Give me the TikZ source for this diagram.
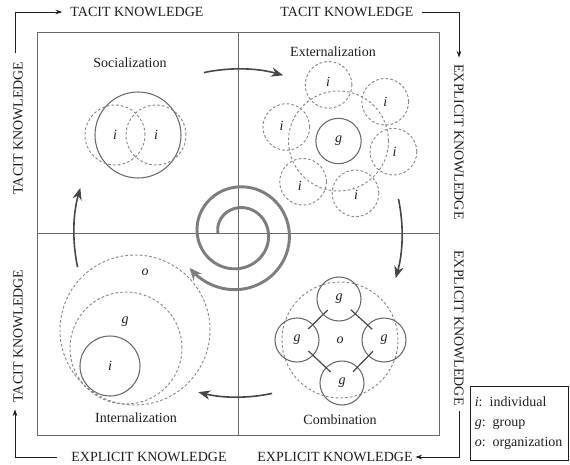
\documentclass[tikz,border=0pt]{standalone}
\usepackage{fontspec}
\setmainfont{Liberation Serif}
\usepackage{tikz}
\usetikzlibrary{arrows.meta, calc}
\definecolor{kline}{RGB}{105,105,105}
\definecolor{kdash}{RGB}{135,135,135}
\definecolor{kspiral}{RGB}{125,125,125}
\definecolor{karrow}{RGB}{70,70,70}
\definecolor{ktext}{RGB}{30,30,30}
\tikzset{
    lbl/.style={font=\fontsize{10.5}{12}\selectfont, text=ktext, inner sep=1pt},
    letter/.style={font=\fontsize{10.5}{12}\selectfont\itshape, text=ktext, inner sep=0pt},
    solidc/.style={circle, draw=kline, line width=0.8pt, inner sep=0pt, letter},
    dashc/.style={circle, draw=kdash, line width=0.7pt, dash pattern=on 2pt off 1.6pt, inner sep=0pt, letter},
    cycarrow/.style={draw=karrow, line width=1.2pt, -{Stealth[length=9pt, width=7pt]}},
    spiralarrow/.style={draw=kspiral, line width=2.2pt, -{Stealth[length=9pt, width=8pt]}},
    cornerarrow/.style={draw=ktext, line width=0.6pt, -{Stealth[length=5pt, width=3.5pt]}},
    gline/.style={draw=karrow, line width=0.9pt, shorten <=-5pt, shorten >=-5pt}
}
\begin{document}
\begin{tikzpicture}[x=0.75pt, y=0.75pt]
    \useasboundingbox (0,0) rectangle (570,-464);
    \coordinate (C) at (238,-233);

    % frame and quadrants
    \draw[kline, line width=0.6pt] (37,-32) rectangle (439,-435);
    \draw[kline, line width=0.6pt] (238,-32) -- (238,-435);
    \draw[kline, line width=0.6pt] (37,-233) -- (439,-233);

    % knowledge labels round the frame
    \node[lbl] (tacitT1) at (137,-12) {TACIT KNOWLEDGE};
    \node[lbl] (tacitT2) at (347,-12) {TACIT KNOWLEDGE};
    \node[lbl, rotate=-90] (explR1) at (459,-142) {EXPLICIT KNOWLEDGE};
    \node[lbl, rotate=-90] (explR2) at (459,-328) {EXPLICIT KNOWLEDGE};
    \node[lbl] (explB2) at (335,-457) {EXPLICIT KNOWLEDGE};
    \node[lbl] (explB1) at (149,-457) {EXPLICIT KNOWLEDGE};
    \node[lbl, rotate=90] (tacitL1) at (18,-128) {TACIT KNOWLEDGE};
    \node[lbl, rotate=90] (tacitL2) at (18,-336) {TACIT KNOWLEDGE};
    \coordinate (cW) at (15,-12);

    \draw[cornerarrow, shorten <=5pt, shorten >=5pt] (tacitL1.east -| cW) |- (tacitT1.west);
    \draw[cornerarrow, shorten <=5pt, shorten >=4pt] (tacitT2.east) -| (explR1.west);
    \draw[cornerarrow, shorten <=3pt, shorten >=1pt] (explR2.east) |- (explB2.east);
    \draw[cornerarrow, shorten <=10pt, shorten >=4pt] (explB1.west) -| (tacitL2.west -| cW);

    % quadrant titles
    \node[lbl] (soc) at (130,-63) {Socialization};
    \node[lbl] (ext) at (333,-52) {Externalization};
    \node[lbl] (int) at (136,-418) {Internalization};
    \node[lbl] (comb) at (340,-420) {Combination};

    % socialization
    \node[solidc, minimum size=64.5pt] (sg) at (138,-135) {};
    \node[dashc, minimum size=45pt] (si1) at (115,-135) {i};
    \node[dashc, minimum size=45pt] (si2) at (156,-135) {i};

    % externalization
    \node[solidc, minimum size=34pt] (eg) at (338.5,-141) {g};
    \node[dashc, minimum size=75pt] (ering) at (338.5,-141) {};
    \foreach \a/\d/\l [count=\k] in {100/57/60, 40/61/61, -11/56/57, -72/55/57, -131/54/59, 165/54/59}{
        \node[dashc, minimum size=35pt] (ei\k) at ($(eg)+(\a:\d)$) {};
        \node[letter] (eil\k) at ($(eg)+(\a:\l)$) {i};
    }

    % combination
    \node[dashc, minimum size=87pt] (co) at (340,-340) {o};
    \node[solidc, minimum size=33pt] (cg1) at (339,-299) {g};
    \node[solidc, minimum size=33pt] (cg2) at (297,-340) {g};
    \node[solidc, minimum size=33pt] (cg3) at (384,-340) {g};
    \node[solidc, minimum size=33pt] (cg4) at (342,-383) {g};
    \draw[gline] (cg1) -- (cg2);
    \draw[gline] (cg1) -- (cg3);
    \draw[gline] (cg4) -- (cg2);
    \draw[gline] (cg4) -- (cg3);

    % internalization
    \node[dashc, minimum size=112.5pt] (io) at (135,-330) {};
    \node[dashc, minimum size=84pt] (ig) at (126,-348) {};
    \node[solidc, minimum size=45pt] (ii) at (110,-366) {i};
    \node[letter] (iol) at (145,-272) {o};
    \node[letter] (igl) at (125,-322) {g};

    % cycle arrows
    \foreach \s/\e in {102/74, 12/-16, -78/-104, 192/164}
        \draw[cycarrow] ($(C)+(\s:164)$) arc[start angle=\s, end angle=\e, radius=164];

    % spiral
    \draw[spiralarrow, shift={(C)}] plot[domain=0:684, samples=160, smooth, variable=\t]
        ({(20+0.058*\t)*cos(180-\t)}, {(20+0.058*\t)*sin(180-\t)});

    % legend
    \node[draw=ktext, line width=0.6pt, text width=67pt, inner sep=3pt, align=left,
          font=\fontsize{10.5}{15}\selectfont, text=ktext, minimum height=55pt] (legend) at (519.5,-423.5)
        {\textit{i}: individual\\ \textit{g}: group\\ \textit{o}: organization};
\end{tikzpicture}
\end{document}
